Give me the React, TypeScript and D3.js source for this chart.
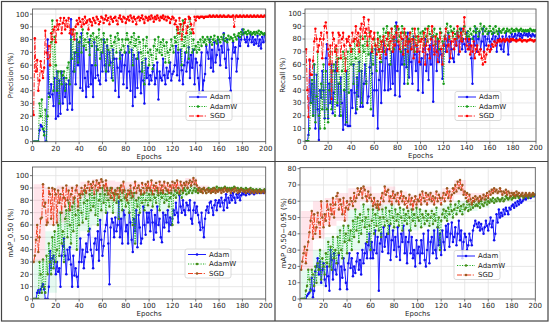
import React from "react"
import * as d3 from "d3"

const epochs = d3.range(1, 201)

// Precision (%)
const precAdam = [
  0, 0, 0, 0, 0, 9, 13, 12, 10, 8,
  0, 0, 80, 38, 35, 45, 37, 28, 50, 18,
  55, 20, 48, 22, 55, 30, 50, 35, 45, 25,
  48, 30, 96, 25, 55, 70, 45, 80, 60, 78,
  42, 85, 40, 75, 50, 35, 55, 43, 80, 45,
  60, 35, 78, 50, 75, 52, 48, 45, 70, 55,
  80, 60, 48, 75, 55, 70, 62, 50, 72, 65,
  40, 65, 58, 35, 70, 55, 68, 45, 60, 70,
  42, 75, 55, 40, 72, 28, 68, 35, 65, 42,
  70, 55, 38, 62, 48, 30, 65, 50, 58, 45,
  52, 48, 55, 60, 45, 50, 62, 33, 55, 50,
  48, 65, 52, 45, 58, 50, 55, 62, 48, 53,
  55, 60, 75, 52, 70, 48, 72, 56, 45, 60,
  70, 55, 62, 74, 50, 68, 58, 72, 45, 65,
  62, 50, 38, 60, 70, 40, 48, 53, 75, 70,
  65, 80, 58, 72, 55, 78, 62, 68, 80, 72,
  60, 75, 70, 85, 65, 58, 80, 72, 50, 40,
  65, 78, 70, 74, 55, 65, 82, 75, 80, 88,
  85, 80, 78, 82, 75, 80, 84, 78, 82, 76,
  80, 77, 83, 75, 80, 73, 82, 78, 84, 79,
]
const precAdamW = [
  0, 0, 0, 0, 0, 30, 20, 33, 10, 5,
  25, 0, 20, 35, 60, 78, 95, 40, 82, 60,
  40, 55, 30, 55, 45, 52, 55, 40, 50, 58,
  62, 45, 80, 65, 88, 55, 70, 85, 62, 78,
  82, 70, 88, 75, 80, 72, 85, 78, 68, 83,
  75, 85, 80, 60, 82, 72, 88, 65, 80, 70,
  85, 78, 55, 80, 72, 60, 83, 75, 48, 78,
  82, 70, 85, 80, 65, 72, 80, 75, 70, 80,
  85, 80, 70, 78, 82, 60, 85, 75, 80, 65,
  82, 78, 70, 55, 80, 45, 75, 82, 70, 60,
  72, 68, 57, 75, 80, 65, 72, 82, 70, 78,
  68, 80, 75, 62, 78, 70, 62, 72, 80, 75,
  70, 82, 78, 88, 72, 85, 92, 60, 95, 75,
  82, 70, 90, 65, 96, 85, 70, 80, 72, 75,
  70, 78, 72, 80, 75, 82, 78, 80, 76, 82,
  80, 78, 82, 76, 80, 83, 79, 77, 82, 80,
  78, 82, 80, 84, 79, 81, 78, 83, 80, 82,
  81, 79, 84, 82, 80, 83, 85, 82, 86, 84,
  88, 85, 86, 84, 87, 85, 86, 84, 85, 86,
  84, 86, 85, 87, 84, 86, 85, 84, 85, 84,
]
const precSGD = [
  21, 81, 55, 64, 40, 48, 63, 55, 50, 58,
  87, 70, 65, 75, 60, 85, 80, 88, 90, 78,
  95, 88, 92, 97, 85, 93, 97, 88, 95, 90,
  97, 85, 88, 84, 88, 80, 90, 95, 92, 97,
  94, 90, 96, 92, 98, 93, 95, 88, 96, 94,
  91, 97, 95, 93, 98, 96, 92, 94, 98, 97,
  93, 96, 99, 95, 97, 92, 98, 96, 94, 97,
  98, 95, 92, 97, 99, 96, 94, 98, 97, 93,
  96, 98, 95, 99, 97, 94, 98, 96, 92, 97,
  98, 95, 97, 99, 96, 93, 98, 97, 95, 98,
  96, 99, 97, 94, 98, 96, 99, 97, 95, 98,
  97, 99, 96, 98, 95, 98, 97, 93, 96, 98,
  97, 92, 95, 90, 85, 97, 92, 80, 88, 93,
  96, 85, 90, 98, 97, 92, 88, 85, 98, 95,
  98, 98, 97, 98, 98, 98, 97, 98, 98, 98,
  98, 99, 98, 98, 99, 98, 98, 99, 98, 98,
  99, 98, 98, 99, 98, 98, 98, 99, 98, 98,
  98, 99, 90, 98, 99, 98, 98, 99, 98, 98,
  99, 98, 98, 99, 98, 98, 99, 98, 98, 99,
  98, 98, 99, 98, 98, 99, 98, 98, 99, 98,
]

// Recall (%)
const recAdam = [
  0, 0, 5, 63, 30, 45, 20, 60, 10, 52,
  25, 1, 40, 34, 55, 40, 18, 65, 76, 18,
  45, 30, 60, 22, 38, 55, 62, 28, 45, 20,
  50, 30, 9, 40, 13, 55, 12, 12, 12, 40,
  26, 60, 38, 22, 50, 35, 62, 27, 55, 27,
  45, 60, 47, 30, 35, 58, 69, 53, 20, 40,
  72, 40, 10, 48, 62, 30, 55, 78, 40, 65,
  72, 40, 60, 41, 70, 45, 80, 36, 93, 55,
  75, 35, 70, 60, 80, 45, 72, 58, 85, 50,
  78, 62, 45, 82, 68, 55, 75, 40, 70, 60,
  65, 38, 72, 80, 55, 68, 48, 75, 60, 82,
  31, 70, 78, 55, 80, 62, 72, 68, 49, 76,
  82, 70, 75, 85, 62, 78, 72, 65, 62, 80,
  75, 85, 68, 78, 88, 72, 80, 76, 70, 85,
  78, 72, 80, 65, 45, 82, 75, 88, 70, 80,
  85, 72, 78, 88, 70, 82, 75, 80, 85, 78,
  72, 80, 85, 78, 82, 70, 80, 86, 75, 72,
  82, 70, 78, 85, 80, 68, 82, 78, 84, 80,
  82, 84, 80, 83, 85, 82, 84, 81, 83, 85,
  83, 84, 82, 85, 83, 82, 84, 83, 82, 83,
]
const recAdamW = [
  0, 0, 0, 10, 30, 48, 20, 60, 15, 35,
  70, 20, 10, 45, 25, 60, 10, 55, 25, 15,
  40, 70, 25, 55, 60, 20, 72, 30, 65, 45,
  20, 55, 70, 40, 65, 15, 70, 38, 75, 60,
  72, 45, 80, 65, 25, 78, 55, 82, 30, 75,
  70, 82, 45, 78, 68, 85, 25, 72, 60, 80,
  75, 55, 85, 70, 82, 62, 78, 88, 70, 85,
  90, 75, 85, 60, 88, 80, 72, 90, 85, 78,
  88, 82, 70, 90, 85, 60, 85, 78, 45, 80,
  85, 72, 88, 80, 70, 82, 75, 88, 78, 85,
  80, 86, 75, 88, 82, 78, 90, 84, 80, 86,
  82, 88, 76, 84, 80, 72, 88, 85, 78, 45,
  82, 88, 92, 85, 80, 90, 86, 82, 88, 84,
  80, 86, 82, 88, 85, 80, 86, 90, 84, 82,
  86, 82, 88, 84, 80, 86, 90, 85, 88, 82,
  86, 92, 88, 84, 90, 86, 88, 84, 86, 90,
  86, 84, 88, 85, 90, 86, 84, 88, 86, 85,
  87, 88, 85, 86, 88, 86, 87, 85, 88, 86,
  87, 86, 88, 87, 86, 87, 88, 86, 87, 86,
  87, 86, 87, 86, 88, 87, 86, 87, 86, 87,
]
const recSGD = [
  72, 40, 19, 64, 52, 52, 63, 78, 88, 80,
  70, 75, 80, 85, 65, 80, 90, 93, 85, 72,
  60, 75, 33, 85, 80, 70, 75, 55, 85, 83,
  65, 80, 85, 75, 55, 80, 78, 82, 75, 70,
  85, 78, 80, 90, 75, 85, 70, 88, 92, 80,
  97, 85, 88, 75, 95, 82, 86, 70, 80, 85,
  75, 68, 80, 72, 65, 78, 70, 82, 75, 68,
  80, 85, 72, 78, 88, 70, 82, 75, 85, 90,
  78, 72, 85, 80, 68, 88, 75, 82, 70, 78,
  85, 72, 80, 65, 88, 75, 70, 82, 62, 78,
  80, 70, 85, 60, 75, 88, 72, 65, 80, 90,
  75, 68, 82, 70, 62, 78, 85, 72, 60, 75,
  80, 88, 70, 75, 82, 65, 78, 85, 72, 80,
  75, 90, 82, 70, 85, 78, 88, 97, 80, 75,
  72, 80, 68, 75, 70, 78, 65, 72, 75, 70,
  68, 72, 65, 60, 70, 62, 68, 72, 75, 70,
  72, 76, 74, 78, 75, 77, 79, 78, 80, 78,
  79, 80, 78, 79, 80, 79, 78, 80, 79, 80,
  79, 79, 78, 79, 79, 80, 79, 78, 79, 79,
  79, 78, 79, 79, 80, 79, 79, 78, 79, 79,
]

// mAP_0.50 (%)
const map50Adam = [
  0, 0, 0, 5, 7, 5, 8, 10, 12, 8,
  0, 0, 0, 10, 39, 25, 33, 35, 30, 20,
  30, 22, 25, 10, 35, 43, 49, 35, 20, 40,
  32, 42, 28, 10, 35, 19, 25, 18, 10, 30,
  49, 30, 40, 25, 34, 45, 38, 52, 57, 40,
  35, 25, 45, 49, 40, 55, 31, 64, 48, 35,
  43, 55, 60, 70, 45, 12, 58, 65, 62, 50,
  66, 55, 60, 79, 50, 65, 45, 72, 68, 55,
  60, 45, 70, 62, 48, 38, 65, 55, 72, 42,
  68, 58, 45, 49, 75, 60, 52, 70, 62, 70,
  55, 72, 62, 48, 68, 54, 75, 60, 65, 50,
  46, 70, 58, 68, 62, 72, 55, 66, 60, 65,
  72, 68, 78, 70, 62, 84, 75, 70, 80, 72,
  68, 78, 76, 72, 80, 65, 61, 72, 78, 70,
  75, 68, 62, 56, 70, 58, 50, 65, 72, 75,
  70, 78, 79, 74, 68, 76, 80, 72, 78, 80,
  75, 82, 78, 72, 80, 85, 74, 82, 78, 84,
  80, 86, 82, 78, 85, 82, 86, 80, 84, 86,
  85, 87, 84, 86, 88, 85, 87, 86, 88, 85,
  87, 86, 88, 87, 86, 88, 87, 86, 88, 87,
]
const map50AdamW = [
  0, 0, 0, 0, 0, 30, 20, 5, 32, 10,
  5, 35, 20, 45, 30, 20, 50, 25, 55, 30,
  40, 60, 35, 70, 45, 55, 30, 65, 72, 50,
  78, 60, 45, 75, 55, 82, 68, 40, 72, 60,
  85, 70, 62, 78, 88, 65, 80, 55, 85, 72,
  90, 75, 82, 68, 88, 60, 80, 85, 72, 90,
  78, 85, 70, 88, 80, 75, 90, 82, 70, 85,
  88, 78, 85, 65, 90, 80, 72, 88, 82, 75,
  85, 78, 70, 88, 82, 60, 86, 45, 80, 75,
  82, 70, 88, 78, 85, 72, 80, 90, 76, 85,
  80, 88, 75, 85, 82, 78, 88, 84, 72, 86,
  82, 88, 78, 85, 80, 88, 75, 82, 86, 60,
  84, 88, 82, 86, 90, 85, 88, 82, 86, 90,
  88, 85, 90, 86, 88, 92, 86, 88, 90, 87,
  89, 86, 90, 88, 87, 89, 90, 88, 86, 89,
  90, 88, 89, 87, 90, 88, 89, 91, 88, 90,
  89, 90, 88, 90, 91, 89, 90, 88, 90, 89,
  90, 89, 91, 90, 88, 90, 89, 88, 90, 89,
  89, 88, 90, 89, 88, 89, 90, 88, 89, 88,
  88, 89, 87, 88, 89, 88, 87, 88, 89, 88,
]
const map50SGD = [
  30, 35, 48, 60, 38, 50, 65, 66, 93, 75,
  78, 60, 62, 90, 85, 65, 90, 60, 89, 85,
  62, 88, 78, 85, 70, 90, 82, 75, 92, 80,
  88, 72, 85, 90, 78, 82, 88, 92, 75, 85,
  82, 90, 85, 88, 92, 86, 90, 95, 88, 93,
  90, 95, 85, 92, 96, 88, 94, 90, 97, 95,
  92, 88, 96, 90, 85, 88, 82, 90, 86, 80,
  88, 85, 90, 82, 88, 92, 86, 95, 88, 82,
  80, 88, 85, 92, 86, 83, 90, 95, 86, 90,
  92, 88, 85, 94, 90, 86, 93, 88, 95, 90,
  88, 96, 85, 92, 88, 94, 90, 86, 95, 88,
  92, 86, 95, 90, 88, 94, 86, 92, 88, 95,
  90, 94, 88, 96, 90, 86, 95, 92, 88, 94,
  92, 95, 90, 94, 96, 92, 95, 98, 93, 96,
  92, 88, 90, 87, 89, 86, 90, 88, 86, 89,
  87, 88, 86, 89, 87, 90, 86, 88, 87, 89,
  88, 86, 89, 87, 90, 88, 87, 89, 88, 86,
  88, 89, 87, 90, 88, 86, 88, 87, 89, 88,
  87, 88, 86, 88, 87, 89, 86, 88, 87, 86,
  88, 87, 86, 88, 87, 86, 87, 88, 86, 87,
]

// mAP_0.50-0.95 (%)
const map5095Adam = [
  0, 0, 0, 0, 0, 2, 3, 4, 6, 13,
  1, 5, 17, 20, 25, 15, 23, 10, 18, 22,
  12, 8, 20, 14, 5, 30, 24, 12, 28, 18,
  15, 22, 27, 6, 20, 13, 25, 18, 10, 6,
  22, 28, 19, 25, 14, 20, 16, 23, 28, 18,
  24, 15, 30, 22, 28, 34, 25, 33, 40, 25,
  35, 25, 30, 42, 28, 38, 5, 34, 40, 29,
  44, 32, 38, 40, 28, 45, 24, 36, 42, 30,
  38, 26, 44, 32, 24, 40, 35, 45, 28, 38,
  22, 35, 42, 28, 38, 25, 30, 20, 36, 28,
  32, 22, 36, 28, 40, 24, 20, 30, 42, 22,
  35, 38, 28, 42, 30, 25, 44, 33, 40, 27,
  42, 35, 30, 45, 38, 46, 32, 40, 47, 35,
  38, 44, 33, 40, 48, 36, 42, 25, 35, 40,
  38, 30, 33, 40, 36, 33, 42, 45, 48, 46,
  44, 47, 42, 46, 43, 40, 44, 48, 45, 42,
  46, 50, 44, 48, 36, 40, 52, 47, 55, 50,
  53, 51, 55, 52, 56, 54, 52, 56, 55, 57,
  58, 56, 59, 57, 60, 58, 61, 59, 60, 61,
  62, 61, 63, 62, 64, 62, 63, 64, 63, 64,
]
const map5095AdamW = [
  0, 0, 0, 0, 5, 8, 18, 12, 5, 18,
  15, 8, 20, 10, 22, 18, 30, 12, 25, 20,
  15, 28, 22, 35, 20, 32, 18, 38, 25, 30,
  22, 38, 28, 42, 30, 25, 45, 35, 40, 28,
  45, 36, 42, 30, 48, 38, 55, 42, 50, 35,
  52, 40, 48, 58, 44, 50, 35, 55, 45, 30,
  48, 55, 40, 52, 45, 58, 42, 50, 38, 55,
  50, 45, 56, 48, 40, 54, 46, 58, 50, 44,
  55, 48, 52, 45, 56, 50, 42, 55, 48, 52,
  46, 54, 50, 42, 55, 48, 52, 45, 56, 50,
  48, 55, 44, 52, 50, 46, 54, 48, 52, 45,
  50, 54, 46, 52, 48, 56, 44, 50, 30, 48,
  52, 55, 50, 54, 48, 56, 52, 58, 54, 50,
  55, 58, 52, 56, 60, 54, 57, 52, 58, 55,
  56, 60, 54, 58, 55, 59, 56, 60, 57, 58,
  57, 59, 56, 60, 58, 57, 59, 61, 58, 60,
  59, 61, 60, 62, 59, 61, 60, 62, 61, 60,
  61, 62, 60, 61, 63, 62, 61, 62, 63, 61,
  62, 63, 62, 64, 63, 62, 63, 64, 63, 62,
  63, 64, 63, 62, 64, 63, 64, 63, 64, 64,
]
const map5095SGD = [
  18, 23, 28, 32, 22, 30, 35, 41, 48, 54,
  37, 52, 40, 44, 53, 47, 38, 60, 50, 44,
  52, 48, 60, 55, 45, 58, 52, 62, 50, 58,
  63, 65, 55, 61, 58, 52, 62, 48, 56, 60,
  55, 58, 62, 60, 57, 65, 60, 62, 68, 64,
  66, 68, 62, 69, 67, 63, 60, 66, 62, 64,
  60, 57, 62, 58, 56, 60, 55, 58, 62, 65,
  60, 69, 64, 66, 67, 60, 63, 58, 66, 62,
  64, 60, 65, 58, 62, 66, 60, 63, 58, 62,
  56, 60, 64, 58, 62, 55, 60, 63, 58, 61,
  60, 64, 58, 66, 62, 60, 65, 58, 64, 61,
  65, 60, 63, 58, 62, 66, 60, 64, 62, 58,
  62, 65, 60, 64, 68, 62, 66, 60, 64, 68,
  65, 70, 66, 72, 68, 73, 67, 70, 64, 66,
  62, 65, 60, 64, 61, 58, 62, 60, 63, 61,
  62, 60, 63, 61, 62, 64, 61, 63, 65, 62,
  66, 64, 67, 65, 68, 66, 67, 65, 66, 68,
  66, 64, 66, 65, 67, 64, 66, 65, 63, 65,
  64, 65, 63, 66, 64, 65, 63, 64, 65, 63,
  64, 65, 63, 64, 65, 63, 64, 65, 64, 64,
]

const xTicks = d3.range(0, 201, 20)
const seriesNames = ["Adam", "AdamW", "SGD"]

const font = "DejaVu Sans, sans-serif"

type Style = { line: string; dot: string; dash: string; band?: string }

const topStyles: Style[] = [
  { line: "#1f1fff", dot: "#1010ee", dash: "none" },
  { line: "#1fae1f", dot: "#1a9a1a", dash: "1.2,1.3" },
  { line: "#ff2020", dot: "#ff0000", dash: "5,1.5,1.2,1.5" },
]
const bottomStyles: Style[] = [
  { line: "#1f1fff", dot: "#1010ee", dash: "none" },
  { line: "#1fae1f", dot: "#4a8a1a", dash: "1.2,1.3", band: "rgba(0,210,120,0.10)" },
  { line: "#f04020", dot: "#9a5a20", dash: "5,1.5,1.2,1.5", band: "rgba(255,40,90,0.12)" },
]

type PanelProps = {
  left: number; right: number; top: number; bottom: number
  yMax: number; yTicks: number[]; label: string; labelX: number
  data: number[][]; styles: Style[]; legendX: number; legendY: number
}

const Panel = ({ left, right, top, bottom, yMax, yTicks, label, labelX, data, styles, legendX, legendY }: PanelProps) => {
  const x = d3.scaleLinear().domain([0, 200]).range([left, right])
  const y = d3.scaleLinear().domain([0, yMax]).range([bottom, top])
  const line = d3.line<number>().x((d, i) => x(epochs[i])).y(d => y(d))
  const band = d3.area<[number, number, number]>()
    .x(d => x(d[0])).y0(d => y(d[1])).y1(d => y(d[2]))
    .curve(d3.curveStepAfter)
  // shaded spread: min/max of each 10-epoch block
  const bandData = (vals: number[]) => {
    const out: [number, number, number][] = []
    for (let b = 0; b < 200; b += 10) {
      const chunk = vals.slice(b, b + 10)
      out.push([epochs[b], d3.min(chunk)!, d3.max(chunk)!])
    }
    const last = out[out.length - 1]
    out.push([200, last[1], last[2]])
    return out
  }
  const clipId = `clip-${label.replace(/[^a-z0-9]/gi, "")}`
  return (
    <g>
      <clipPath id={clipId}>
        <rect x={left} y={top} width={right - left} height={bottom - top} />
      </clipPath>
      {yTicks.map(t => (
        <line key={`gy${t}`} x1={left} x2={right} y1={y(t)} y2={y(t)} stroke="#e2e2e2" strokeWidth={0.8} />
      ))}
      {xTicks.map(t => (
        <line key={`gx${t}`} x1={x(t)} x2={x(t)} y1={top} y2={bottom} stroke="#e2e2e2" strokeWidth={0.8} />
      ))}
      <g clipPath={`url(#${clipId})`}>
        {data.map((vals, si) =>
          styles[si].band ? (
            <path key={`band${si}`} d={band(bandData(vals)) || ""} fill={styles[si].band} />
          ) : null
        )}
        {data.map((vals, si) => (
          <g key={`s${si}`}>
            <path d={line(vals) || ""} fill="none" stroke={styles[si].line} strokeWidth={1}
              strokeDasharray={styles[si].dash} />
            {vals.map((v, i) => (
              <circle key={i} cx={x(epochs[i])} cy={y(v)} r={1.25} fill={styles[si].dot} />
            ))}
          </g>
        ))}
      </g>
      <rect x={left} y={top} width={right - left} height={bottom - top} fill="none" stroke="#555" strokeWidth={0.8} />
      {yTicks.map(t => (
        <g key={`ty${t}`}>
          <line x1={left - 2.5} x2={left} y1={y(t)} y2={y(t)} stroke="#555" strokeWidth={0.8} />
          <text x={left - 3.5} y={y(t)} dy="0.35em" textAnchor="end" fontSize={7} fill="#222" fontFamily={font}>{t}</text>
        </g>
      ))}
      {xTicks.map(t => (
        <g key={`tx${t}`}>
          <line x1={x(t)} x2={x(t)} y1={bottom} y2={bottom + 2.5} stroke="#555" strokeWidth={0.8} />
          <text x={x(t)} y={bottom + 9} textAnchor="middle" fontSize={7} fill="#222" fontFamily={font}>{t}</text>
        </g>
      ))}
      <text x={(left + right) / 2} y={bottom + 17} textAnchor="middle" fontSize={7} fill="#222" fontFamily={font}>Epochs</text>
      <text transform={`translate(${labelX},${(top + bottom) / 2}) rotate(-90)`} textAnchor="middle" fontSize={7}
        fill="#222" fontFamily={font}>{label}</text>
      <g transform={`translate(${legendX},${legendY})`}>
        <rect x={-3} y={-5.5} width={46} height={29} rx={2} fill="rgba(255,255,255,0.8)" stroke="#d0d0d0" strokeWidth={0.8} />
        {seriesNames.map((n, i) => (
          <g key={n} transform={`translate(0,${i * 9.5})`}>
            <line x1={0} x2={18} y1={0} y2={0} stroke={styles[i].line} strokeWidth={1} strokeDasharray={styles[i].dash} />
            <circle cx={9} cy={0} r={1.3} fill={styles[i].dot} />
            <text x={21} y={0} dy="0.35em" fontSize={7} fill="#222" fontFamily={font}>{n}</text>
          </g>
        ))}
      </g>
    </g>
  )
}

const ticks100 = d3.range(0, 101, 10)
const ticks80 = d3.range(0, 81, 10)

export default function App() {
  return (
    <svg width={550} height={325} style={{ position: "absolute", left: 0, top: 0, background: "#fff" }}>
      <rect x={0} y={0} width={550} height={325} fill="#fff" />
      <Panel left={32.5} right={265.7} top={9} bottom={141.7} yMax={104} yTicks={ticks100}
        label="Precision (%)" labelX={13} data={[precAdam, precAdamW, precSGD]} styles={topStyles}
        legendX={189} legendY={97} />
      <Panel left={305} right={536} top={9} bottom={141.3} yMax={103.5} yTicks={ticks100}
        label="Recall (%)" labelX={285} data={[recAdam, recAdamW, recSGD]} styles={topStyles}
        legendX={458} legendY={97} />
      <Panel left={32.5} right={265.7} top={167} bottom={299} yMax={107} yTicks={ticks100}
        label="mAP_0.50 (%)" labelX={13} data={[map50Adam, map50AdamW, map50SGD]} styles={bottomStyles}
        legendX={188} legendY={254.5} />
      <Panel left={300} right={535.3} top={167.5} bottom={299} yMax={80.7} yTicks={ticks80}
        label="mAP_0.50−0.95 (%)" labelX={286} data={[map5095Adam, map5095AdamW, map5095SGD]} styles={bottomStyles}
        legendX={457} legendY={256} />
      <rect x={1.5} y={1.5} width={546.5} height={319.5} fill="none" stroke="#444" strokeWidth={1.2} />
      <line x1={275} x2={275} y1={1.5} y2={321} stroke="#444" strokeWidth={1.2} />
      <line x1={1.5} x2={548} y1={161.5} y2={161.5} stroke="#444" strokeWidth={1.2} />
    </svg>
  )
}
